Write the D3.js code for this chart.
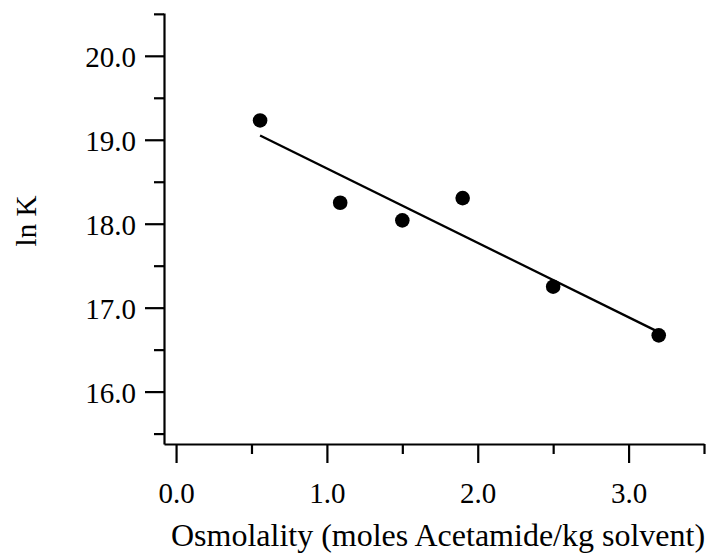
<!DOCTYPE html>
<html>
  <head>
    <title>ln K vs osmolality</title>
    <script src="https://d3js.org/d3.v7.min.js"></script>
    <style>
      body { margin: 0; background: white; }
      text { font-family: "Liberation Serif", "Times New Roman", serif; fill: black; }
    </style>
  </head>
  <body>
    <script>
      // measured points
      let osmolality = [0.557, 1.088, 1.50, 1.90, 2.50, 3.20];
      let lnK = [19.23, 18.25, 18.04, 18.305, 17.25, 16.67];
      let xMajor = [0, 1, 2, 3], xMinor = [0.5, 1.5, 2.5, 3.5];
      let yMajor = [16, 17, 18, 19, 20], yMinor = [15.5, 16.5, 17.5, 18.5, 19.5, 20.5];

      let width = 712, height = 556, fs = 29;
      let svg = d3.select("body").append("svg")
                  .attr("width", width).attr("height", height);

      let x = d3.scaleLinear().domain([-0.08, 3.5]).range([164, 704]);
      let y = d3.scaleLinear().domain([15.376, 20.51]).range([444, 13]);

      // least squares fit line
      let mx = d3.mean(osmolality), my = d3.mean(lnK);
      let sxy = d3.sum(osmolality, (v, i) => (v - mx) * (lnK[i] - my));
      let sxx = d3.sum(osmolality, v => (v - mx) * (v - mx));
      let slope = sxy / sxx, icpt = my - slope * mx;
      let ends = d3.extent(osmolality);

      svg.append("line")
         .attr("x1", x(ends[0])).attr("y1", y(icpt + slope * ends[0]))
         .attr("x2", x(ends[1])).attr("y2", y(icpt + slope * ends[1]))
         .attr("stroke", "black").attr("stroke-width", 2.3);

      svg.selectAll("circle").data(osmolality).enter().append("circle")
         .attr("cx", d => x(d)).attr("cy", (d, i) => y(lnK[i]))
         .attr("r", 7.3).attr("fill", "black");

      // axes
      let fmt = d3.format(".1f");
      let gx = svg.append("g").attr("transform", "translate(0,444)");
      gx.call(d3.axisBottom(x).tickValues(xMajor).tickSize(19).tickSizeOuter(0).tickFormat(fmt));
      gx.append("g").call(d3.axisBottom(x).tickValues(xMinor).tickSize(10).tickFormat(""))
        .select(".domain").remove();

      let gy = svg.append("g").attr("transform", "translate(164,0)");
      gy.call(d3.axisLeft(y).tickValues(yMajor).tickSize(19).tickSizeOuter(0).tickPadding(9).tickFormat(fmt));
      gy.append("g").call(d3.axisLeft(y).tickValues(yMinor).tickSize(10).tickFormat(""))
        .select(".domain").remove();

      svg.selectAll(".domain, .tick line").attr("stroke", "black").attr("stroke-width", 2.2);
      svg.selectAll(".tick text").attr("font-size", fs).attr("font-family", null).attr("fill", "black");
      gx.selectAll(".tick text").attr("dy", null).attr("y", 59);
      gy.selectAll(".tick text").attr("dy", "0.38em");

      svg.append("text").attr("x", 438).attr("y", 546)
         .attr("text-anchor", "middle").attr("font-size", 32)
         .text("Osmolality (moles Acetamide/kg solvent)");

      svg.append("text").attr("transform", "translate(36,221) rotate(-90)")
         .attr("text-anchor", "middle").attr("font-size", fs)
         .text("ln K");
    </script>
  </body>
</html>
